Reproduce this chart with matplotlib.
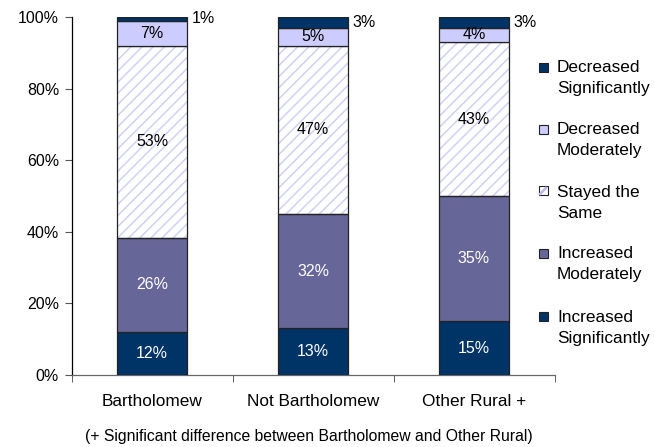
import matplotlib
matplotlib.use("Agg")
import matplotlib.pyplot as plt
import numpy as np

plt.rcParams['font.family'] = ['Liberation Sans', 'DejaVu Sans']
plt.rcParams['hatch.linewidth'] = 1.1

# Survey groups and response shares (percent), bottom to top of each stack
groups = ["Bartholomew", "Not Bartholomew", "Other Rural +"]
series = ["Increased\nSignificantly", "Increased\nModerately", "Stayed the\nSame",
          "Decreased\nModerately", "Decreased\nSignificantly"]
increased_sig = [12, 13, 15]
increased_mod = [26, 32, 35]
stayed_same = [53, 47, 43]
decreased_mod = [7, 5, 4]
decreased_sig = [1, 3, 3]
y_ticks = [0, 20, 40, 60, 80, 100]
footnote = "(+ Significant difference between Bartholomew and Other Rural)"

values = np.array([increased_sig, increased_mod, stayed_same, decreased_mod, decreased_sig], dtype=float)
# 100% stacked: each column scaled to its own total
shares = values / values.sum(axis=0) * 100

face = ["#003366", "#666699", "white", "#ccccff", "#003366"]
hatched = [False, False, True, False, False]
text_col = ["white", "white", "black", "black", "black"]
edge = "#222222"
hatch_col = "#d0d0f6"

W, H = 654, 447
fig = plt.figure(figsize=(W / 100, H / 100), dpi=100)
ax = fig.add_axes([71.5 / W, 1 - 375 / H, 483 / W, 358 / H])

x = np.arange(len(groups))
bw = 0.435
fs_val = 11.5
fs_lab = 12.4
bottom = np.zeros(len(groups))
for i in range(len(series)):
    h = shares[i]
    if hatched[i]:
        ax.bar(x, h, bw, bottom=bottom, color=face[i], edgecolor=hatch_col,
               hatch="///", linewidth=0, zorder=2)
        ax.bar(x, h, bw, bottom=bottom, fill=False, edgecolor=edge,
               linewidth=0.9, zorder=3)
    else:
        ax.bar(x, h, bw, bottom=bottom, color=face[i], edgecolor=edge,
               linewidth=0.9, zorder=3)
    for j in range(len(groups)):
        v = values[i, j]
        yc = bottom[j] + h[j] / 2
        if i == len(series) - 1:
            ax.text(x[j] + bw / 2 + 0.03, yc, f"{v:.0f}%", ha="left", va="center",
                    fontsize=fs_val, color="black", zorder=5, clip_on=False)
        else:
            ax.text(x[j], yc, f"{v:.0f}%", ha="center", va="center",
                    fontsize=fs_val, color=text_col[i], zorder=5)
    bottom += h

ax.set_xlim(-0.5, len(groups) - 0.5)
ax.set_ylim(0, 100)
ax.set_yticks(y_ticks)
ax.set_yticklabels([f"{t}%" for t in y_ticks], fontsize=fs_val)
ax.set_xticks(x)
ax.set_xticklabels(groups, fontsize=fs_lab)
ax.set_xticks(np.arange(-0.5, len(groups)), minor=True)
ax.tick_params(axis="x", which="major", length=0, pad=14)
ax.tick_params(axis="x", which="minor", length=5, direction="out", color="#444444")
ax.tick_params(axis="y", length=5, direction="out", color="#555555", pad=4)
for s in ("top", "right"):
    ax.spines[s].set_visible(False)
ax.spines["left"].set_color("black")
ax.spines["bottom"].set_color("#666666")
ax.spines["left"].set_linewidth(0.9)
ax.spines["bottom"].set_linewidth(0.9)

# Legend entries listed top to bottom (reverse of stacking order)
leg_y = [68, 130, 192, 254, 317]
for k, i in enumerate(range(len(series) - 1, -1, -1)):
    yc = leg_y[k]
    rect_x, rect_s = 538.5, 9
    ym = yc - 1
    r = plt.Rectangle((rect_x / W, 1 - (ym + rect_s / 2) / H), rect_s / W, rect_s / H,
                      transform=fig.transFigure, facecolor=face[i], edgecolor=edge,
                      linewidth=0.8)
    fig.add_artist(r)
    if hatched[i]:
        fig.add_artist(plt.Line2D([(rect_x + 1.5) / W, (rect_x + rect_s - 1.5) / W],
                                  [1 - (ym + rect_s / 2 - 1.5) / H, 1 - (ym - rect_s / 2 + 1.5) / H],
                                  transform=fig.transFigure, color="#b8b8ee", lw=1.8))
    for n, line in enumerate(series[i].split("\n")):
        fig.text(557 / W, 1 - (yc + 21 * n) / H, line, ha="left", va="center",
                 fontsize=fs_lab)

fig.text(309 / W, 1 - 437 / H, footnote, ha="center", va="center", fontsize=11.3)

fig.savefig("out.png", dpi=100)
